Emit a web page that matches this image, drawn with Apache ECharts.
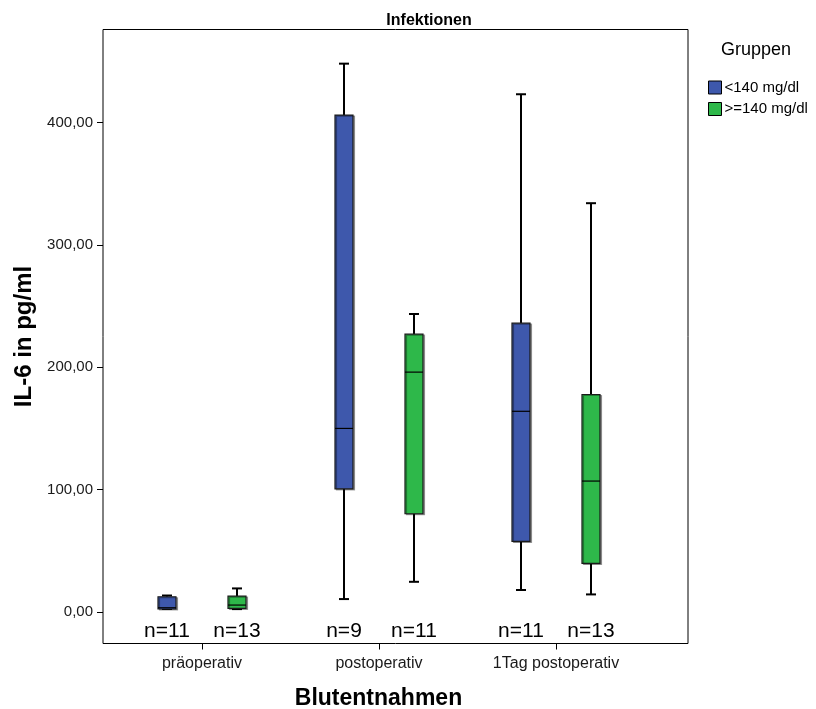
<!DOCTYPE html>
<html>
<head>
<meta charset="utf-8">
<script src="https://cdn.jsdelivr.net/npm/echarts@6/dist/echarts.min.js"></script>
<style>html,body{margin:0;padding:0;background:#fff}#c{width:816px;height:709px}</style>
</head>
<body>
<div id="c"></div>
<script>
// Data
const categories = ['präoperativ', 'postoperativ', '1Tag postoperativ'];
const groupNames = ['<140 mg/dl', '>=140 mg/dl'];
// [min, Q1, median, Q3, max]
const lowGroup = [
  [2.5, 2.5, 3.5, 12.5, 13.5],
  [10.6, 100.7, 150, 406, 448],
  [18, 57.7, 164, 236, 423]
];
const highGroup = [
  [2.4, 3, 5.7, 13, 19.3],
  [24.7, 80.3, 196, 227, 243.5],
  [14.4, 39.7, 107, 177.7, 334]
];
const lowN = [11, 9, 11];
const highN = [13, 11, 13];
const yTicks = [0, 100, 200, 300, 400];
const xTicks = [0, 1, 2];

const FONT = 'Liberation Sans, Arial, sans-serif';
const colors = ['#3E58AC', '#2EB84A'];

function buildData(stats, ns) {
  return stats.map((s, i) => [i, s[0], s[1], s[2], s[3], s[4], ns[i]]);
}

function makeRender(offset, color) {
  return function (params, api) {
    const x = api.value(0);
    const pMin = api.coord([x, api.value(1)]);
    const pQ1 = api.coord([x, api.value(2)]);
    const pMed = api.coord([x, api.value(3)]);
    const pQ3 = api.coord([x, api.value(4)]);
    const pMax = api.coord([x, api.value(5)]);
    const p0 = api.coord([x, 0]);
    const cx = pMed[0] + offset;
    const hw = 9, cap = 5;
    const lineStyle = { stroke: '#000', lineWidth: 2 };
    return {
      type: 'group',
      children: [
        { type: 'line', shape: { x1: cx, y1: pMax[1], x2: cx, y2: pQ3[1] }, style: lineStyle },
        { type: 'line', shape: { x1: cx - cap, y1: pMax[1], x2: cx + cap, y2: pMax[1] }, style: lineStyle },
        { type: 'line', shape: { x1: cx, y1: pMin[1], x2: cx, y2: pQ1[1] }, style: lineStyle },
        { type: 'line', shape: { x1: cx - cap, y1: pMin[1], x2: cx + cap, y2: pMin[1] }, style: lineStyle },
        { type: 'rect', shape: { x: cx - hw, y: pQ3[1], width: hw * 2, height: pQ1[1] - pQ3[1] },
          style: { fill: color, stroke: '#1a1a1a', lineWidth: 1.2, shadowColor: 'rgba(0,0,0,0.35)', shadowOffsetX: 1.5, shadowOffsetY: 1 } },
        { type: 'line', shape: { x1: cx - hw, y1: pMed[1], x2: cx + hw, y2: pMed[1] }, style: { stroke: '#000', lineWidth: 1.2 } },
        { type: 'text', style: { text: 'n=' + api.value(6), x: cx, y: p0[1] + 19, align: 'center', verticalAlign: 'middle',
          font: '21px ' + FONT, fill: '#000' } }
      ]
    };
  };
}

const chart = echarts.init(document.getElementById('c'), null, { renderer: 'canvas' });
chart.setOption({
  animation: false,
  backgroundColor: '#fff',
  title: {
    text: 'Infektionen', left: 424, top: 8, textAlign: 'center',
    textStyle: { fontFamily: FONT, fontSize: 16, fontWeight: 'bold', color: '#000' }
  },
  graphic: [{
    type: 'text', left: 721, top: 41,
    style: { text: 'Gruppen', font: '18px ' + FONT, fill: '#000' }
  }],
  legend: {
    orient: 'vertical', left: 703, top: 75,
    itemWidth: 13, itemHeight: 13, itemGap: 6.5,
    data: groupNames.map((n, i) => ({ name: n, icon: 'rect', itemStyle: { color: colors[i], borderColor: '#000', borderWidth: 1 } })),
    textStyle: { fontFamily: FONT, fontSize: 15, color: '#000', padding: [0, 0, 0, -2] }
  },
  grid: {
    show: true, left: 103, right: 128, top: 29.5, bottom: 65.5,
    outerBoundsMode: 'none', containLabel: false,
    borderColor: '#000', borderWidth: 1, backgroundColor: '#fff'
  },
  xAxis: {
    type: 'value', min: -0.5593, max: 2.7458,
    name: 'Blutentnahmen', nameLocation: 'middle', nameGap: 44,
    nameTextStyle: { fontFamily: FONT, fontSize: 23, fontWeight: 'bold', color: '#000', padding: [0, 34, 0, 0] },
    axisLine: { show: false, onZero: false },
    splitLine: { show: false },
    axisTick: { show: true, customValues: xTicks, length: 6, lineStyle: { color: '#000' } },
    axisLabel: { customValues: xTicks, formatter: v => categories[v], margin: 12,
      fontFamily: FONT, fontSize: 16, color: '#1a1a1a' }
  },
  yAxis: {
    type: 'value', min: -25.7, max: 475.9,
    name: 'IL-6 in pg/ml', nameLocation: 'middle', nameGap: 55,
    nameTextStyle: { fontFamily: FONT, fontSize: 24, fontWeight: 'bold', color: '#000' },
    axisLine: { show: false, onZero: false },
    splitLine: { show: false },
    axisTick: { show: true, customValues: yTicks, length: 6, lineStyle: { color: '#000' } },
    axisLabel: { customValues: yTicks, formatter: v => v.toFixed(2).replace('.', ','), margin: 10,
      fontFamily: FONT, fontSize: 15, color: '#1a1a1a' }
  },
  series: [
    { name: groupNames[0], type: 'custom', renderItem: makeRender(-35, colors[0]),
      itemStyle: { color: colors[0] }, encode: { x: 0, y: [1, 2, 3, 4, 5] }, data: buildData(lowGroup, lowN) },
    { name: groupNames[1], type: 'custom', renderItem: makeRender(35, colors[1]),
      itemStyle: { color: colors[1] }, encode: { x: 0, y: [1, 2, 3, 4, 5] }, data: buildData(highGroup, highN) }
  ]
});
</script>
</body>
</html>
